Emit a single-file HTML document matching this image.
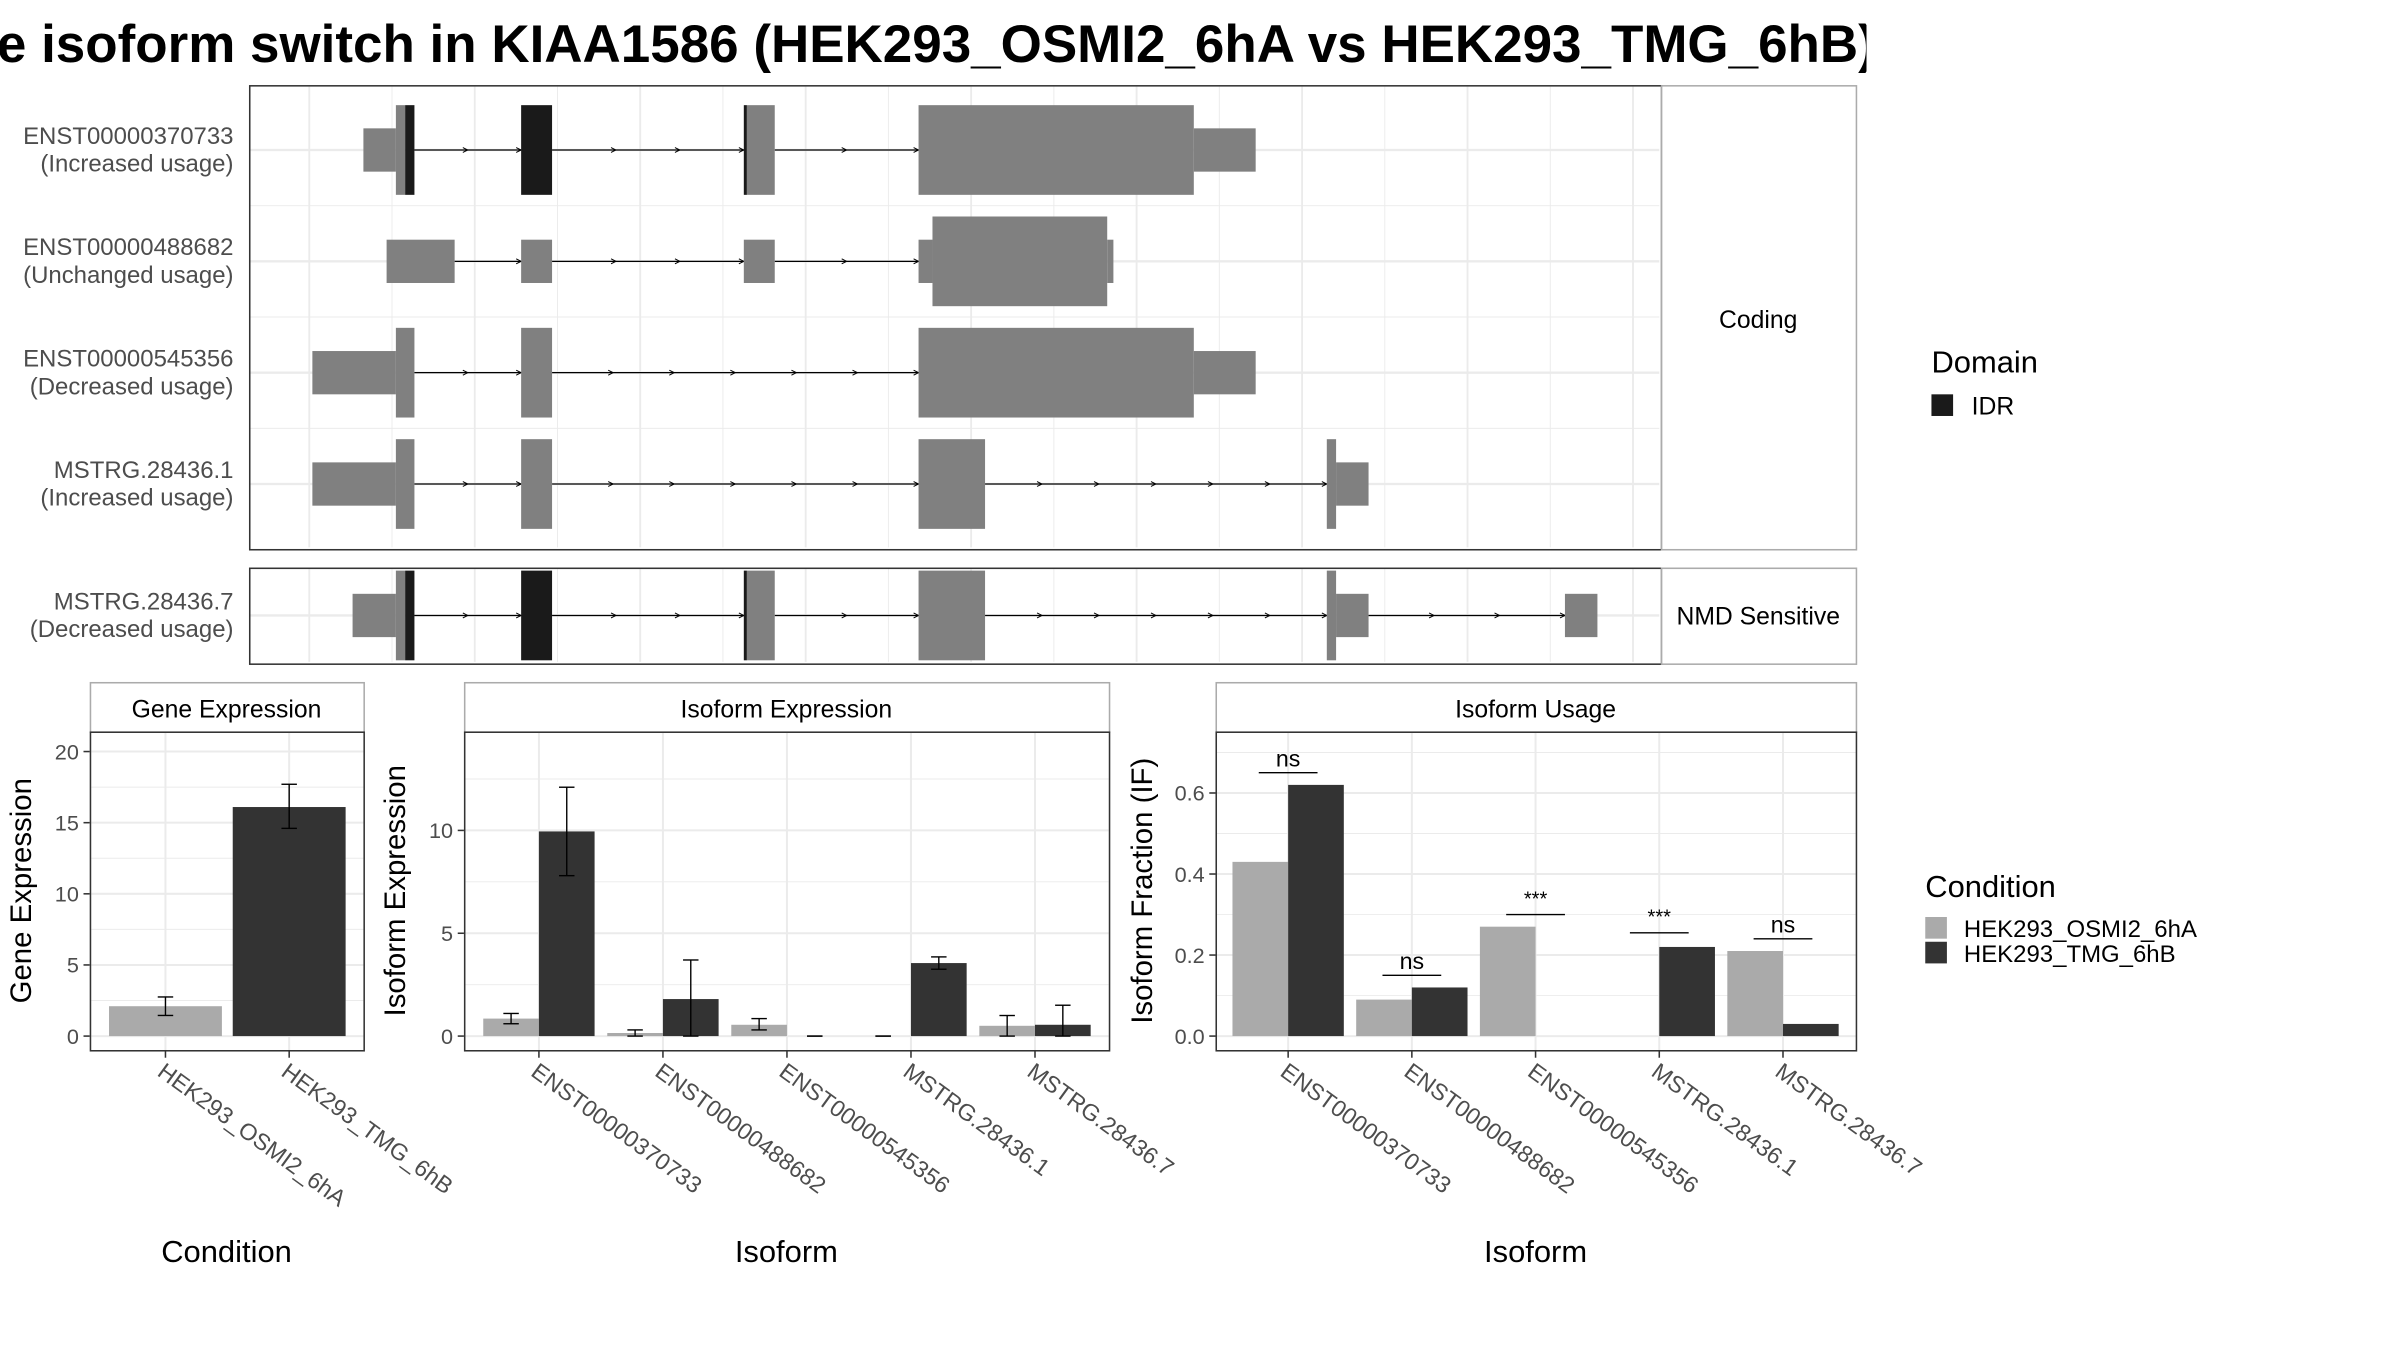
<!DOCTYPE html>
<html><head><meta charset="utf-8"><style>
html,body{margin:0;padding:0;background:#fff;}
svg{display:block;font-family:"Liberation Sans",sans-serif;}
</style></head><body>
<svg id="c" width="2400" height="1350" viewBox="0 0 1552 873" xmlns="http://www.w3.org/2000/svg">
<defs><clipPath id="tc"><rect x="0" y="0" width="1207" height="60"/></clipPath>
<marker id="arr" markerWidth="6" markerHeight="6" refX="5" refY="3" orient="auto"><path d="M1,1 L5,3 L1,5" fill="none" stroke="#000" stroke-width="0.8"/></marker></defs>
<g clip-path="url(#tc)"><text x="-2" y="40" font-size="34" font-weight="bold" textLength="1215" lengthAdjust="spacingAndGlyphs">e isoform switch in KIAA1586 (HEK293_OSMI2_6hA vs HEK293_TMG_6hB)</text></g>
<g id="g"></g>
</svg>
<script>
// ---- data ----
const transcriptNames = ["ENST00000370733","ENST00000488682","ENST00000545356","MSTRG.28436.1","MSTRG.28436.7"];
const transcriptStatus = ["(Increased usage)","(Unchanged usage)","(Decreased usage)","(Increased usage)","(Decreased usage)"];
// exons: [start, end, tall(1)/short(0), idr(1)/not(0)] in genomic-ish x units
const exons0 = [[235,256,0,0],[256,262,1,0],[262,268,1,1],[337,357,1,1],[481,483,1,1],[483,501,1,0],[594,772,1,0],[772,812,0,0]];
const exons1 = [[250,294,0,0],[337,357,0,0],[481,501,0,0],[594,603,0,0],[603,716,1,0],[716,720,0,0]];
const exons2 = [[202,256,0,0],[256,268,1,0],[337,357,1,0],[594,772,1,0],[772,812,0,0]];
const exons3 = [[202,256,0,0],[256,268,1,0],[337,357,1,0],[594,637,1,0],[858,864,1,0],[864,885,0,0]];
const exons4 = [[228,256,0,0],[256,262,1,0],[262,268,1,1],[337,357,1,1],[481,483,1,1],[483,501,1,0],[594,637,1,0],[858,864,1,0],[864,885,0,0],[1012,1033,0,0]];
const conditions = ["HEK293_OSMI2_6hA","HEK293_TMG_6hB"];
const geneExpr = [2.1, 16.1];
const geneErrLo = [1.45, 14.6];
const geneErrHi = [2.75, 17.7];
const isoforms = ["ENST00000370733","ENST00000488682","ENST00000545356","MSTRG.28436.1","MSTRG.28436.7"];
const isoExprA = [0.85, 0.15, 0.55, 0, 0.5];
const isoExprB = [9.95, 1.8, 0, 3.55, 0.55];
const isoErrLoA = [0.6, 0, 0.3, 0, 0];
const isoErrHiA = [1.1, 0.3, 0.85, 0, 1.0];
const isoErrLoB = [7.8, 0, 0, 3.25, 0];
const isoErrHiB = [12.1, 3.7, 0, 3.85, 1.5];
const ifA = [0.43, 0.09, 0.27, 0, 0.21];
const ifB = [0.62, 0.12, 0, 0.22, 0.03];
const sigLabels = ["ns","ns","***","***","ns"];
const sigY = [0.65, 0.15, 0.30, 0.255, 0.24];
const geneTicks = [0,5,10,15,20];
const isoTicks = [0,5,10];
const ifTicks = [0.0,0.2,0.4,0.6];
const ifTickLabels = ["0.0","0.2","0.4","0.6"];

const NS="http://www.w3.org/2000/svg";
const G=document.getElementById('g');
function el(t,a,p){const e=document.createElementNS(NS,t);for(const k in a)e.setAttribute(k,a[k]);(p||G).appendChild(e);return e;}
function txt(s,a,p){const e=el('text',a,p);e.textContent=s;return e;}
const LIGHT="#aaaaaa",DARK="#333333",GRID="#ebebeb";

// ---- transcript panels ----
const exonSets=[exons0,exons1,exons2,exons3,exons4];
const rowY=[97,169,241,313,398];
function panelBox(x,y,w,h,name){const r=el('rect',{x:x,y:y,width:w,height:h,fill:'none',stroke:'#333','stroke-width':1});return r;}
function vgrid(y1,y2){for(let i=0;i<9;i++){const x=200+107*i;el('line',{x1:x,x2:x,y1:y1,y2:y2,stroke:GRID,'stroke-width':1.2});if(i<8)el('line',{x1:x+53.5,x2:x+53.5,y1:y1,y2:y2,stroke:GRID,'stroke-width':0.6});}}
vgrid(56,354);vgrid(368,428);
rowY.forEach((y,i)=>{
  el('line',{x1:162,x2:1073,y1:y,y2:y,stroke:GRID,'stroke-width':1.5});
  if(i<3) el('line',{x1:162,x2:1073,y1:y+36,y2:y+36,stroke:GRID,'stroke-width':0.6});
  const ex=exonSets[i];
  const g=el('g',{});
  for(let k=0;k<ex.length-1;k++){
    const a=ex[k][1],b=ex[k+1][0];
    if(b-a>5){
      const seg=Math.max(1,Math.round((b-a)/40));
      for(let s=0;s<seg;s++){const x1=a+(b-a)*s/seg,x2=a+(b-a)*(s+1)/seg;
        el('line',{x1:x1,x2:x2,y1:y,y2:y,stroke:'#000','stroke-width':0.8,'marker-end':'url(#arr)'},g);}
    }
  }
  ex.forEach(e=>{const h=e[2]?29:14;const r=el('rect',{x:e[0],y:y-h,width:e[1]-e[0],height:2*h,fill:e[3]?'#1a1a1a':'#808080'},g);
    });
  const t=el('text',{x:151,y:y-4,'font-size':15.5,fill:'#4d4d4d','text-anchor':'end'});
  el('tspan',{x:151,dy:0},t).textContent=transcriptNames[i];
  el('tspan',{x:151,dy:18},t).textContent=transcriptStatus[i];
});
panelBox(161.5,55.5,913,300,'coding-panel');
panelBox(161.5,367.5,913,62,'nmd-panel');
const s1=el('rect',{x:1074.5,y:55.5,width:126,height:300,fill:'#fff',stroke:'#ababab'});
txt('Coding',{x:1137,y:212,'font-size':16,'text-anchor':'middle',});
const s2=el('rect',{x:1074.5,y:367.5,width:126,height:62,fill:'#fff',stroke:'#ababab'});
txt('NMD Sensitive',{x:1137,y:404,'font-size':16,'text-anchor':'middle',});

// domain legend
txt('Domain',{x:1249,y:241,'font-size':20,});
const dl=el('rect',{x:1249,y:255,width:14,height:14,fill:'#1a1a1a'});
txt('IDR',{x:1275,y:268,'font-size':16,});

// ---- bar panels ----
const PT=473,PB=679,Y0=670;
function barPanel(cfg){
  const {x0,x1,strip,ticks,tickLabels,scale,yTitle,yTitleX,cats,catX,xTitle,name}=cfg;
  const sr=el('rect',{x:x0+.5,y:441.5,width:x1-x0,height:32,fill:'#fff',stroke:'#ababab'});
  txt(strip,{x:(x0+x1)/2,y:464,'font-size':16,'text-anchor':'middle',});
  // minor grid
  for(let i=0;i<ticks.length;i++){const v=ticks[i]+(ticks[1]-ticks[0])/2;const y=Y0-v*scale;if(y>PT)el('line',{x1:x0+1,x2:x1,y1:y,y2:y,stroke:GRID,'stroke-width':0.6});}
  ticks.forEach((v,i)=>{const y=Y0-v*scale;el('line',{x1:x0+1,x2:x1,y1:y,y2:y,stroke:GRID,'stroke-width':1.3});
    el('line',{x1:x0-4,x2:x0,y1:y,y2:y,stroke:'#333'});
    const t=txt(tickLabels[i],{x:x0-7,y:y+5,'font-size':14,fill:'#4d4d4d','text-anchor':'end'});});
  cats.forEach((c,i)=>{const x=catX(i);el('line',{x1:x,x2:x,y1:PT,y2:PB,stroke:GRID,'stroke-width':1.3});
    el('line',{x1:x,x2:x,y1:PB,y2:PB+5,stroke:'#333'});
    const t=txt(c,{x:x-6,y:PB+16,'font-size':15,fill:'#4d4d4d',transform:`rotate(36 ${x-6} ${PB+16})`});});
  const yt=txt(yTitle,{x:yTitleX,y:(PT+PB)/2,'font-size':19,'text-anchor':'middle',transform:`rotate(-90 ${yTitleX} ${(PT+PB)/2})`});
  const xt=txt(xTitle,{x:(x0+x1)/2,y:816,'font-size':20,'text-anchor':'middle'});
}
function bar(x,w,v,scale,fill,name){const h=v*scale;const r=el('rect',{x:x,y:Y0-h,width:w,height:Math.max(h,0),fill:fill});}
function err(x,lo,hi,scale,name){const g=el('g',{stroke:'#000','stroke-width':0.9});
  const y1=Y0-lo*scale,y2=Y0-hi*scale;el('line',{x1:x,x2:x,y1:y1,y2:y2},g);el('line',{x1:x-5,x2:x+5,y1:y1,y2:y1},g);el('line',{x1:x-5,x2:x+5,y1:y2,y2:y2},g);}

// Gene expression
const gScale=9.2, gX=i=>107+80*i;
barPanel({x0:58,x1:235,strip:'Gene Expression',ticks:geneTicks,tickLabels:geneTicks.map(String),scale:gScale,yTitle:'Gene Expression',yTitleX:20,cats:conditions,catX:gX,xTitle:'Condition',name:'gene-expression'});
geneExpr.forEach((v,i)=>{bar(gX(i)-36.5,73,v,gScale,i?DARK:LIGHT,'bar-gene-'+conditions[i]);err(gX(i),geneErrLo[i],geneErrHi[i],gScale,'errorbar-gene');});
panelBox(58.5,473.5,177,206,'gene-expression-panel');

// Isoform expression
const iScale=13.3, iX=i=>348.5+80.2*i;
barPanel({x0:300,x1:717,strip:'Isoform Expression',ticks:isoTicks,tickLabels:isoTicks.map(String),scale:iScale,yTitle:'Isoform Expression',yTitleX:262,cats:isoforms,catX:iX,xTitle:'Isoform',name:'isoform-expression'});
isoforms.forEach((c,i)=>{const x=iX(i);
  bar(x-36,36,isoExprA[i],iScale,LIGHT,'bar-expr-osmi2-'+c);bar(x,36,isoExprB[i],iScale,DARK,'bar-expr-tmg-'+c);
  err(x-18,isoErrLoA[i],isoErrHiA[i],iScale,'errorbar-expr-osmi2');err(x+18,isoErrLoB[i],isoErrHiB[i],iScale,'errorbar-expr-tmg');});
panelBox(300.5,473.5,417,206,'isoform-expression-panel');

// Isoform usage
const fScale=262, fX=i=>833+80*i;
barPanel({x0:786,x1:1200,strip:'Isoform Usage',ticks:ifTicks,tickLabels:ifTickLabels,scale:fScale,yTitle:'Isoform Fraction (IF)',yTitleX:745,cats:isoforms,catX:fX,xTitle:'Isoform',name:'isoform-usage'});
isoforms.forEach((c,i)=>{const x=fX(i);
  bar(x-36,36,ifA[i],fScale,LIGHT,'bar-if-osmi2-'+c);bar(x,36,ifB[i],fScale,DARK,'bar-if-tmg-'+c);
  const y=Y0-sigY[i]*fScale;
  const l=el('line',{x1:x-19,x2:x+19,y1:y,y2:y,stroke:'#000','stroke-width':0.9});
  const t=txt(sigLabels[i],{x:x,y:y-(sigLabels[i]==='ns'?4:6),'font-size':sigLabels[i]==='ns'?15:13,'text-anchor':'middle'});});
panelBox(786.5,473.5,414,206,'isoform-usage-panel');

// condition legend
txt('Condition',{x:1245,y:580,'font-size':20,});
[LIGHT,DARK].forEach((c,i)=>{const r=el('rect',{x:1245,y:593+16*i,width:14,height:14,fill:c});
  const t=txt(conditions[i],{x:1270,y:606+16*i,'font-size':15.5});});
</script>
</body></html>
